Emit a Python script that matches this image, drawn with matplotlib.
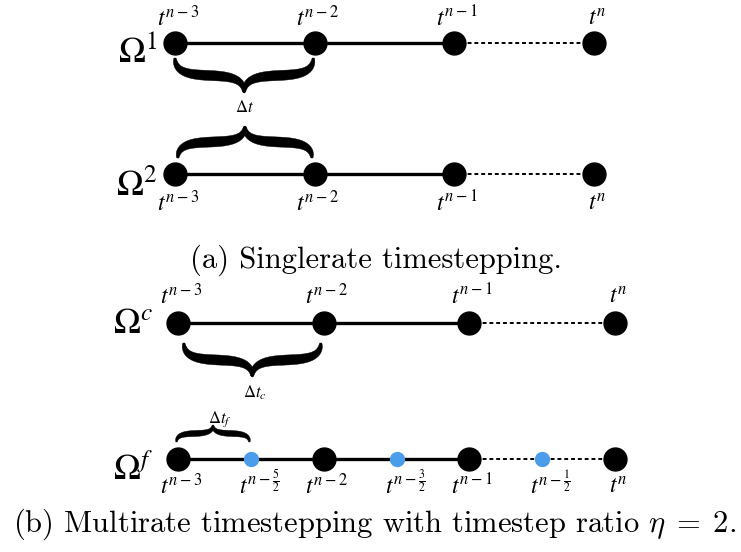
import numpy as np
import matplotlib.pyplot as plt

# time levels (in coarse steps) and their labels
steps = [0, 1, 2, 3]
step_labels = [r'$t^{n-3}$', r'$t^{n-2}$', r'$t^{n-1}$', r'$t^{n}$']
half_steps = [0.5, 1.5, 2.5]
half_labels = [r'$t^{n-\frac{5}{2}}$', r'$t^{n-\frac{3}{2}}$', r'$t^{n-\frac{1}{2}}$']

BLUE = '#4b9ceb'
W, H = 741, 552

fig = plt.figure(figsize=(W / 100, H / 100), dpi=100)


def make_ax(x0, dx):
    # axes over the whole figure: x in time steps, y in pixels from top
    ax = fig.add_axes([0, 0, 1, 1])
    ax.set_xlim(-x0 / dx, (W - x0) / dx)
    ax.set_ylim(H, 0)
    ax.axis('off')
    ax.patch.set_alpha(0)
    return ax


def timeline(ax, y, dx, halves=False):
    ax.plot(steps[:3], [y] * 3, color='k', lw=2.4, zorder=1)
    ax.plot(steps[2:], [y] * 2, color='k', lw=1.4, ls=(0, (2, 1.5)), zorder=1)
    ax.plot(steps, [y] * 4, 'o', color='k', ms=16.5, zorder=2)
    if halves:
        ax.plot(half_steps, [y] * 3, 'o', color=BLUE, ms=10, zorder=2)


def labels(ax, y, names, xs, dxoff=0.0):
    for x, s in zip(xs, names):
        ax.text(x + dxoff, y, s, ha='center', va='baseline', fontsize=17,
                math_fontfamily='stix')


def brace(ax, xa, xb, y_end, y_tip, dx, thick=10):
    xa_p, xb_p = xa * dx, xb * dx
    xm = (xa_p + xb_p) / 2
    h = y_tip - y_end
    t = np.linspace(0, 1, 80)
    for x0 in (xa_p, xb_p):
        P = [np.array(p) for p in ((x0, y_end), (x0, y_end + 0.9 * h),
                                   (xm, y_end + 0.1 * h), (xm, y_tip))]
        pts = (((1 - t) ** 3)[:, None] * P[0] + (3 * (1 - t) ** 2 * t)[:, None] * P[1]
               + (3 * (1 - t) * t ** 2)[:, None] * P[2] + (t ** 3)[:, None] * P[3])
        d = np.gradient(pts, axis=0)
        n = np.stack([-d[:, 1], d[:, 0]], 1)
        n /= np.linalg.norm(n, axis=1)[:, None]
        w = 0.2 * thick + 0.8 * thick * np.sin(np.pi * t) ** 0.7
        w[-1] = 0
        a = pts + n * w[:, None] / 2
        b = pts - n * w[:, None] / 2
        poly = np.vstack([a, b[::-1]])
        ax.fill(poly[:, 0] / dx, poly[:, 1], color='k', lw=0.3)


# ---- (a) singlerate ----
dxa = (594 - 175) / 3
ax1 = make_ax(175, dxa)
timeline(ax1, 43, dxa)
timeline(ax1, 174, dxa)
labels(ax1, 26, step_labels, steps, 0.02)
labels(ax1, 211, step_labels, steps, 0.02)
ax1.text(-0.13, 62, r'$\Omega^1$', ha='right', va='baseline', fontsize=26, math_fontfamily='stix')
ax1.text(-0.13, 196, r'$\Omega^2$', ha='right', va='baseline', fontsize=26, math_fontfamily='stix')
brace(ax1, 0, 0.99, 58, 93, dxa)
brace(ax1, 0.02, 0.98, 158, 126, dxa)
ax1.text(0.5, 112, r'$\Delta t$', ha='center', va='baseline', fontsize=12, math_fontfamily='stix')

# ---- (b) multirate ----
dxb = (615 - 178) / 3
ax2 = make_ax(178, dxb)
timeline(ax2, 323, dxb)
timeline(ax2, 459, dxb, halves=True)
labels(ax2, 304, step_labels, steps, 0.02)
labels(ax2, 494, step_labels, steps, 0.02)
labels(ax2, 494, half_labels, half_steps, 0.06)
ax2.text(-0.17, 333, r'$\Omega^c$', ha='right', va='baseline', fontsize=26, math_fontfamily='stix')
ax2.text(-0.17, 480, r'$\Omega^f$', ha='right', va='baseline', fontsize=26, math_fontfamily='stix')
brace(ax2, 0.04, 0.98, 343, 377, dxb)
brace(ax2, -0.01, 0.49, 442, 425, dxb, thick=6)
ax2.text(0.53, 398, r'$\Delta t_c$', ha='center', va='baseline', fontsize=12, math_fontfamily='stix')
ax2.text(0.29, 423, r'$\Delta t_f$', ha='center', va='baseline', fontsize=12, math_fontfamily='stix')

# captions
fig.text(376 / W, 1 - 268 / H, '(a) Singlerate timestepping.', ha='center', va='baseline',
         family='cmr10', fontsize=22)
fig.text(375 / W, 1 - 532 / H, r'(b) Multirate timestepping with timestep ratio $\eta\;=\;2$.',
         ha='center', va='baseline', family='cmr10', fontsize=22, math_fontfamily='cm')

fig.savefig('out.png', dpi=100)
